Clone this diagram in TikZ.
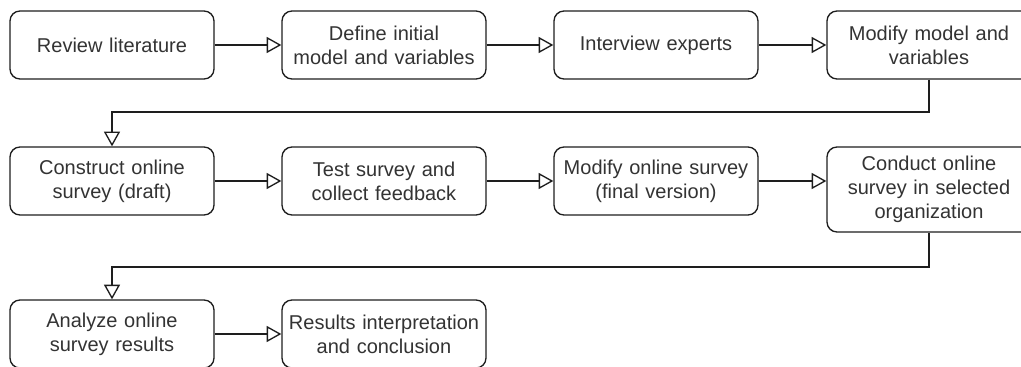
\documentclass[tikz,border=0pt]{standalone}
\usepackage{fontspec}
\setmainfont{Liberation Sans}
\usetikzlibrary{arrows.meta}
\definecolor{txt}{RGB}{51,51,51}
\definecolor{edge}{RGB}{30,30,30}
\begin{document}
\begin{tikzpicture}[x=0.75pt,y=-0.75pt,
  stepbox/.style={draw=edge, line width=1pt, rounded corners=7.5pt, fill=white,
    text width=153pt, minimum height=51pt, inner sep=0pt, align=center,
    text=txt, font=\fontsize{15pt}{18pt}\selectfont},
  flow/.style={draw=edge, line width=1pt,
    -{Triangle[open, length=11pt, width=12pt, line width=1pt]}}]
\useasboundingbox (0,0) rectangle (1021,367);

% first row
\node[stepbox] (a1) at (112,45) {Review literature};
\node[stepbox] (a2) at (384,45) {Define initial\\model and variables};
\node[stepbox] (a3) at (656,45) {Interview experts};
\node[stepbox] (a4) at (929,45) {Modify model and\\variables};

% second row
\node[stepbox] (b1) at (112,181) {Construct online\\survey (draft)};
\node[stepbox] (b2) at (384,181) {Test survey and\\collect feedback};
\node[stepbox] (b3) at (656,181) {Modify online survey\\(final version)};
\node[stepbox, minimum height=63.75pt] (b4) at (929,189.5) {Conduct online\\survey in selected\\organization};

% third row
\node[stepbox] (c1) at (112,334) {Analyze online\\survey results};
\node[stepbox] (c2) at (384,334) {Results interpretation\\and conclusion};

% horizontal links
\draw[flow] (a1) -- (a2);
\draw[flow] (a2) -- (a3);
\draw[flow] (a3) -- (a4);
\draw[flow] (b1) -- (b2);
\draw[flow] (b2) -- (b3);
\draw[flow] (b3.east) -- (b3.east -| b4.west);
\draw[flow] (c1) -- (c2);

% row wrap-arounds
\coordinate (w1) at (929,112);
\coordinate (w2) at (929,267);
\draw[flow] (a4.south) -- (w1) -| (b1.north);
\draw[flow] (b4.south) -- (w2) -| (c1.north);
\end{tikzpicture}
\end{document}
